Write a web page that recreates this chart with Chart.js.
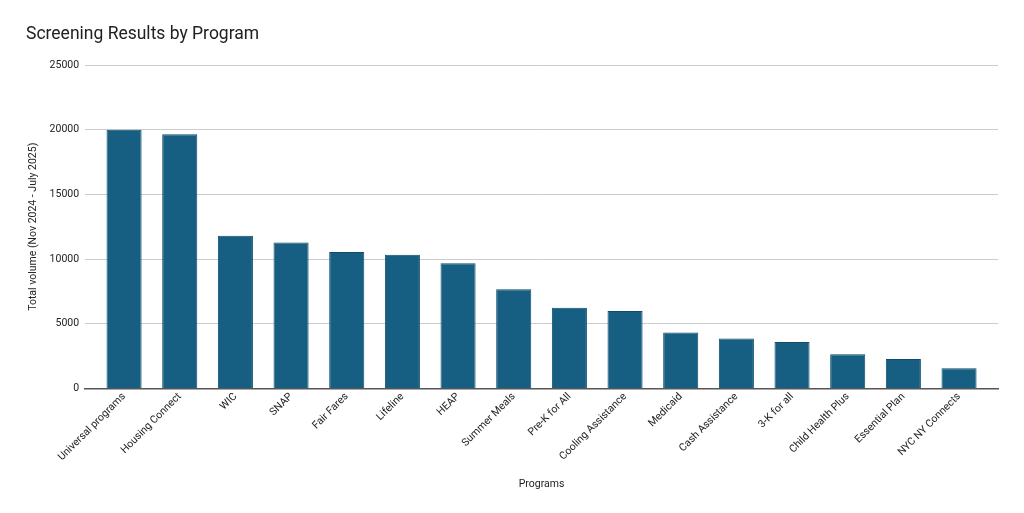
<!DOCTYPE html>
<html>
<head>
<meta charset="utf-8">
<script src="https://cdn.jsdelivr.net/npm/chart.js@4.4.1/dist/chart.umd.min.js"></script>
<style>
  html, body { margin: 0; padding: 0; background: #fff; }
  #wrap { width: 1024px; height: 513px; position: relative; }
</style>
</head>
<body>
<div id="wrap"><canvas id="chart"></canvas></div>
<script>
const programs = [
    "Universal programs", "Housing Connect", "WIC", "SNAP", "Fair Fares",
    "Lifeline", "HEAP", "Summer Meals", "Pre-K for All", "Cooling Assistance",
    "Medicaid", "Cash Assistance", "3-K for all", "Child Health Plus",
    "Essential Plan", "NYC NY Connects"
];
const volumes = [
    20000, 19650, 11800, 11280, 10550, 10340, 9670, 7670, 6240, 5990,
    4330, 3860, 3600, 2640, 2280, 1560
];
const yTicks = [0, 5000, 10000, 15000, 20000, 25000];

const font = 'Roboto';
const small = 10.5;
const ctx = document.getElementById('chart').getContext('2d');

// bars sit on a linear index axis so the plot can keep a little room at both ends
const points = volumes.map((v, i) => ({ x: i, y: v }));

const chart = new Chart(ctx, {
    type: 'bar',
    data: {
        datasets: [{
            label: 'Total volume',
            data: points,
            backgroundColor: '#175f82',
            borderColor: '#0e4c6c',
            borderWidth: 1,
            barPercentage: 0.63,
            categoryPercentage: 1.0
        }]
    },
    options: {
        responsive: true,
        maintainAspectRatio: false,
        animation: false,
        layout: { padding: { left: 26, right: 26, top: 10, bottom: 18 } },
        plugins: {
            legend: { display: false },
            tooltip: { enabled: false },
            title: {
                display: true,
                text: 'Screening Results by Program',
                align: 'start',
                color: '#212121',
                font: { family: font, size: 17.5, weight: 'normal' },
                padding: { top: 14, bottom: 20 }
            }
        },
        scales: {
            x: {
                type: 'linear',
                offset: false,
                min: -0.7,
                max: programs.length - 0.3,
                afterBuildTicks: axis => { axis.ticks = programs.map((p, i) => ({ value: i })); },
                grid: { display: false, drawTicks: false },
                border: { color: '#555', width: 1.5 },
                ticks: {
                    color: '#222',
                    font: { family: font, size: small },
                    minRotation: 45,
                    maxRotation: 45,
                    autoSkip: false,
                    padding: 2,
                    callback: v => programs[v]
                },
                title: {
                    display: true,
                    text: 'Programs',
                    color: '#222',
                    font: { family: font, size: small },
                    padding: { top: 13 }
                }
            },
            y: {
                min: 0,
                max: 25000,
                afterBuildTicks: axis => { axis.ticks = yTicks.map(v => ({ value: v })); },
                grid: { color: '#cccccc', drawTicks: false },
                border: { display: false },
                ticks: {
                    color: '#222',
                    font: { family: font, size: small },
                    padding: 6,
                    callback: v => String(v)
                },
                title: {
                    display: true,
                    text: 'Total volume (Nov 2024 - July 2025)',
                    color: '#222',
                    font: { family: font, size: small },
                    padding: { top: 1, bottom: 4 }
                }
            }
        }
    }
});
</script>
</body>
</html>
